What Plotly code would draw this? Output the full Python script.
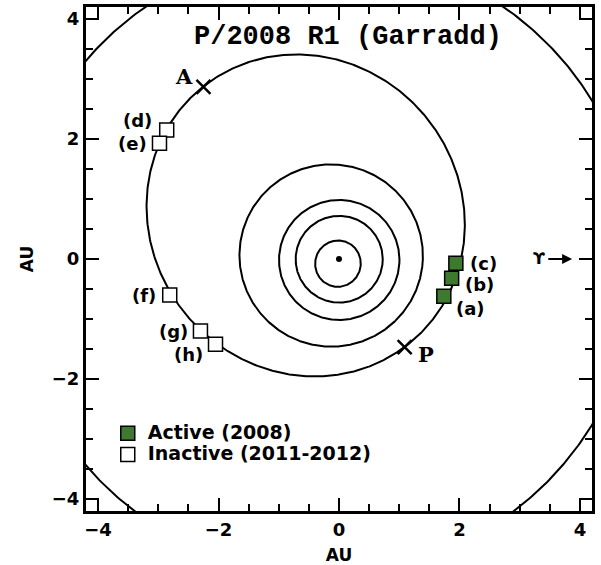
import numpy as np
import plotly.graph_objects as go

# ---- data ----
# planetary orbits: semi-major axis (AU), eccentricity, longitude of perihelion (deg)
planet_names = ["Mercury", "Venus", "Earth", "Mars", "Jupiter"]
planet_a = [0.387, 0.723, 1.000, 1.524, 5.203]
planet_e = [0.2056, 0.0068, 0.0167, 0.0934, 0.0484]
planet_varpi = [77.5, 131.5, 102.9, 336.0, 14.7]

# comet P/2008 R1 (Garradd) projected orbit
comet_a = 2.74
comet_e = 0.333
comet_varpi = -52.7

# observation positions
active_labels = ["(a)", "(b)", "(c)"]
active_x = [1.74, 1.87, 1.94]
active_y = [-0.62, -0.32, -0.07]

inactive_labels = ["(d)", "(e)", "(f)", "(g)", "(h)"]
inactive_x = [-2.86, -2.98, -2.81, -2.30, -2.05]
inactive_y = [2.15, 1.93, -0.60, -1.20, -1.42]

apsis_labels = ["A", "P"]
apsis_x = [-2.25, 1.09]
apsis_y = [2.87, -1.47]

series_names = ["Active (2008)", "Inactive (2011-2012)"]
tick_vals = [-4, -2, 0, 2, 4]

GREEN = "#3d7a30"
BOLD_SANS = "DejaVu Sans"
SERIF = "DejaVu Serif"


def orbit(a, e, varpi_deg, n=720):
    th = np.linspace(0, 2 * np.pi, n)
    w = np.radians(varpi_deg)
    r = a * (1 - e ** 2) / (1 + e * np.cos(th - w))
    return r * np.cos(th), r * np.sin(th)


def big(txt):
    return "<span style='font-size:19px'>" + txt + "</span>"


fig = go.Figure()

for a, e, w in zip(planet_a, planet_e, planet_varpi):
    x, y = orbit(a, e, w)
    fig.add_trace(go.Scatter(x=x, y=y, mode="lines", line=dict(color="black", width=2),
                             showlegend=False, hoverinfo="skip"))

cx, cy = orbit(comet_a, comet_e, comet_varpi)
fig.add_trace(go.Scatter(x=cx, y=cy, mode="lines", line=dict(color="black", width=2),
                         showlegend=False, hoverinfo="skip"))

# Sun
fig.add_trace(go.Scatter(x=[0], y=[0], mode="markers", marker=dict(color="black", size=6),
                         showlegend=False))

# aphelion / perihelion
fig.add_trace(go.Scatter(x=apsis_x, y=apsis_y, mode="markers",
                         marker=dict(symbol="x-thin", size=14, line=dict(color="black", width=2.5)),
                         showlegend=False))

fig.add_trace(go.Scatter(x=active_x, y=active_y, mode="markers", name=big(series_names[0]),
                         marker=dict(symbol="square", size=14, color=GREEN,
                                     line=dict(color="black", width=1.5))))
fig.add_trace(go.Scatter(x=inactive_x, y=inactive_y, mode="markers", name=big(series_names[1]),
                         marker=dict(symbol="square", size=14, color="white",
                                     line=dict(color="black", width=1.5))))

lab_font = dict(family=BOLD_SANS, size=18, color="black", weight="bold")
active_shift = [(27, -12), (28, -6), (28, 0)]
for lab, x, y, (dx, dy) in zip(active_labels, active_x, active_y, active_shift):
    fig.add_annotation(x=x, y=y, text=lab, showarrow=False, xshift=dx, yshift=dy, font=lab_font)
inactive_shift = [(-29, 10), (-27, 0), (-26, 0), (-27, 0), (-27, -10)]
for lab, x, y, (dx, dy) in zip(inactive_labels, inactive_x, inactive_y, inactive_shift):
    fig.add_annotation(x=x, y=y, text=lab, showarrow=False, xshift=dx, yshift=dy, font=lab_font)

apsis_shift = [(-19, 10), (21, -7)]
for lab, x, y, (dx, dy) in zip(apsis_labels, apsis_x, apsis_y, apsis_shift):
    fig.add_annotation(x=x, y=y, text=lab, showarrow=False, xshift=dx, yshift=dy,
                       font=dict(family=SERIF, size=21, color="black", weight="bold"))

# vernal equinox direction
fig.add_annotation(x=3.87, y=0, ax=3.45, ay=0, axref="x", ayref="y", xref="x", yref="y",
                   text="", showarrow=True, arrowhead=2, arrowsize=1, arrowwidth=2,
                   arrowcolor="black")
fig.add_annotation(x=3.33, y=0, text="ϒ", showarrow=False, yshift=1,
                   font=dict(family=BOLD_SANS, size=16, color="black", weight="bold"))

# title
fig.add_annotation(xref="paper", yref="paper", x=0.518, y=0.94, yanchor="middle",
                   xanchor="center", text="P/2008 R1 (Garradd)", showarrow=False,
                   font=dict(family="Liberation Mono", size=27, color="black", weight="bold"))

axis_common = dict(range=[-4.2, 4.2], tickvals=tick_vals, ticks="inside", ticklen=13, tickwidth=2,
                   tickcolor="black", showline=True, linewidth=3, linecolor="black", mirror="ticks",
                   showgrid=False, zeroline=False, automargin=False,
                   tickfont=dict(family=BOLD_SANS, size=18, color="black", weight="bold"),
                   minor=dict(dtick=0.5, tick0=0, ticks="inside", ticklen=7, tickwidth=2,
                              tickcolor="black", showgrid=False),
                   title=dict(text="AU", font=dict(family=BOLD_SANS, size=17, color="black",
                                                   weight="bold")))

fig.update_layout(
    width=601, height=565,
    margin=dict(l=86, r=9, t=7, b=54, autoexpand=False),
    paper_bgcolor="white", plot_bgcolor="white",
    xaxis=dict(**axis_common),
    yaxis=dict(**axis_common),
    legend=dict(x=0.043, y=0.185, xanchor="left", yanchor="top", bgcolor="rgba(0,0,0,0)",
                font=dict(family=BOLD_SANS, size=14, color="black", weight="bold"),
                itemwidth=30, tracegroupgap=0),
    showlegend=True,
)
fig.update_xaxes(title_standoff=12)
fig.update_yaxes(title_standoff=14)

fig.write_html("out.html", config={"displayModeBar": False},
               post_script="document.body.style.margin='0';document.body.style.overflow='hidden';")
